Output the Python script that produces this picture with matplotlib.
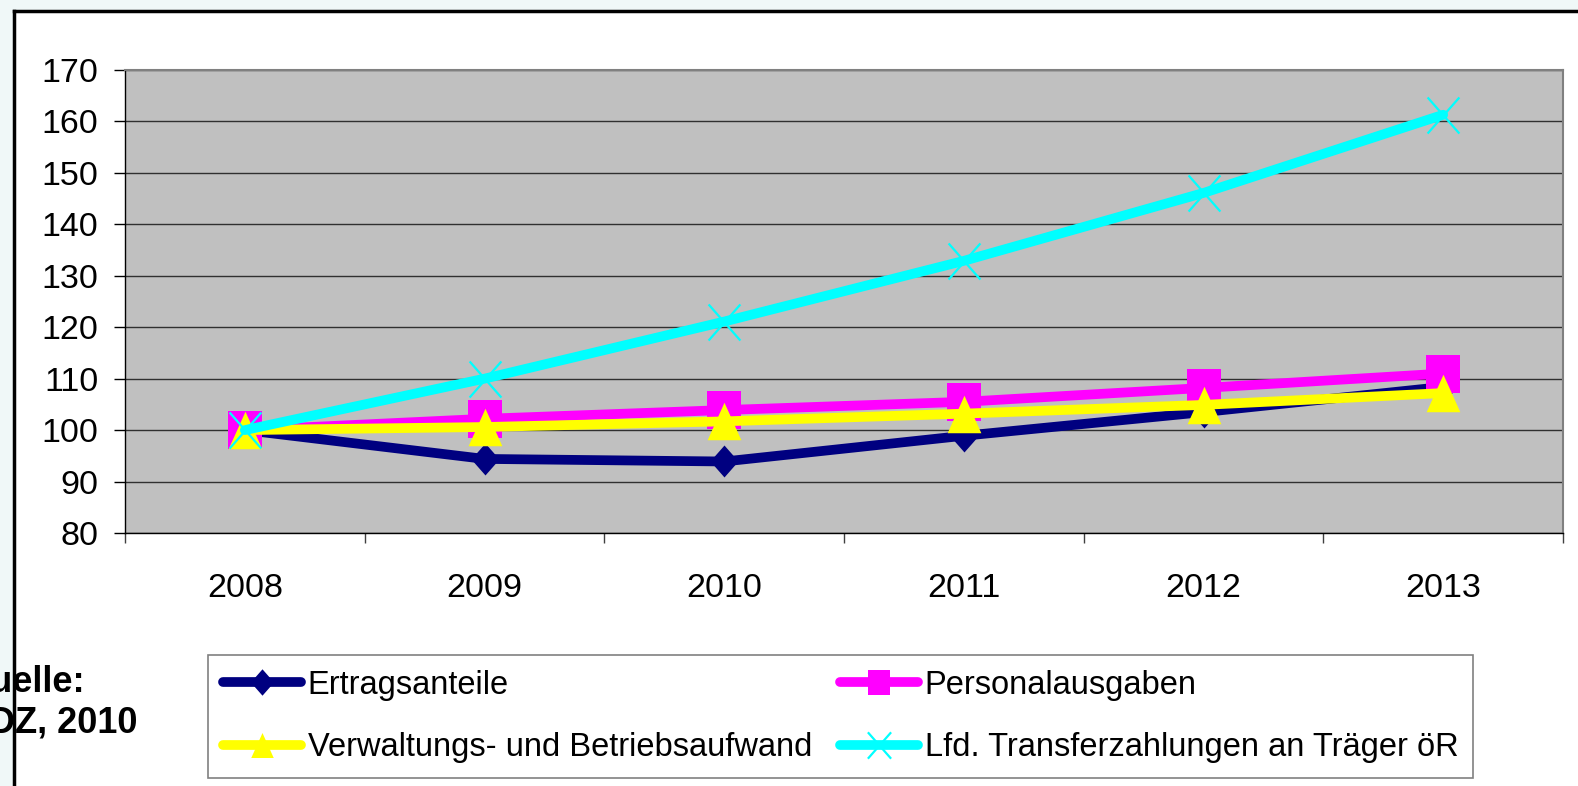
import numpy as np
import matplotlib.pyplot as plt
from matplotlib.path import Path
from matplotlib.lines import Line2D
from matplotlib.patches import Rectangle

plt.rcParams['font.family'] = ['Liberation Sans', 'DejaVu Sans']

# index values, 2008 = 100
years = ['2008', '2009', '2010', '2011', '2012', '2013']
ertragsanteile = [100, 94.4, 93.9, 98.9, 103.5, 108.4]
personalausgaben = [100, 102.2, 103.9, 105.5, 108.2, 111.0]
verwaltung = [100, 100.6, 101.7, 103.2, 104.9, 107.2]
transfer = [100, 110.0, 121.1, 132.9, 146.1, 161.3]

labels = ['Ertragsanteile', 'Personalausgaben',
          'Verwaltungs- und Betriebsaufwand',
          'Lfd. Transferzahlungen an Träger öR']
colors = ['#000080', '#ff00ff', '#ffff00', '#00ffff']

# marker shapes, a bit taller than wide like in the original
sq = Path([(-0.45, -0.5), (0.45, -0.5), (0.45, 0.5), (-0.45, 0.5), (-0.45, -0.5)],
          [Path.MOVETO, Path.LINETO, Path.LINETO, Path.LINETO, Path.CLOSEPOLY])
tri = Path([(-0.45, -0.5), (0.45, -0.5), (0, 0.5), (-0.45, -0.5)],
           [Path.MOVETO, Path.LINETO, Path.LINETO, Path.CLOSEPOLY])
dia = Path([(0, 0.5), (0.44, 0), (0, -0.5), (-0.44, 0), (0, 0.5)],
           [Path.MOVETO, Path.LINETO, Path.LINETO, Path.LINETO, Path.CLOSEPOLY])
cross = Path([(-0.44, -0.5), (0.44, 0.5), (-0.44, 0.5), (0.44, -0.5)],
             [Path.MOVETO, Path.LINETO, Path.MOVETO, Path.LINETO])
markers = [dia, sq, tri, cross]
msizes = [23, 27, 27, 26]
leg_msizes = [19, 18, 18, 19]

W, H = 1578, 786
fig = plt.figure(figsize=(W / 100, H / 100), dpi=100)
fig.patch.set_facecolor('#f0f8f8')

# white panel with black frame, running off right and bottom
fx, fy = 14 / W, 1 - 11 / H
fig.add_artist(Rectangle((fx, -0.1), 1.2, fy + 0.1, transform=fig.transFigure,
                         facecolor='white', edgecolor='none', zorder=-5))
fig.add_artist(Line2D([fx, fx], [-0.1, fy], transform=fig.transFigure,
                      color='black', lw=2.5, zorder=10))
fig.add_artist(Line2D([fx, 1.1], [fy, fy], transform=fig.transFigure,
                      color='black', lw=2.5, zorder=10))

ax = fig.add_axes([125 / W, 1 - 533 / H, (1563 - 125) / W, (533 - 70) / H])
ax.set_facecolor('#c0c0c0')

x = np.arange(len(years))
series = [ertragsanteile, personalausgaben, verwaltung, transfer]
for vals, col, mk, ms in zip(series, colors, markers, msizes):
    if mk is cross:
        ax.plot(x, vals, color=col, lw=7, marker=mk, ms=ms, mfc='none',
                mec=col, mew=1.6, solid_capstyle='round')
    else:
        ax.plot(x, vals, color=col, lw=7, marker=mk, ms=ms, mfc=col,
                mec=col, mew=0, solid_capstyle='round')

ax.set_xlim(-0.5, 5.5)
ax.set_ylim(80, 170)
ax.set_yticks(range(80, 171, 10))
ax.yaxis.grid(True, color='#303030', lw=1)
ax.set_axisbelow(True)

ax.set_xticks(x, years)
ax.set_xticks(np.arange(-0.5, 6, 1), minor=True)
ax.tick_params(axis='x', which='major', length=0, pad=29, labelsize=24.5)
ax.tick_params(axis='x', which='minor', length=7.5, width=1, color='#404040')
ax.tick_params(axis='y', length=8, width=1, pad=11, labelsize=24.5)

for s in ['top', 'right']:
    ax.spines[s].set_color('#808080')
    ax.spines[s].set_linewidth(1.5)
for s in ['left', 'bottom']:
    ax.spines[s].set_color('black')
    ax.spines[s].set_linewidth(1)

# legend: two columns, filled row by row like the original
handles = []
for col, mk, ms in zip(colors, markers, leg_msizes):
    if mk is cross:
        h = Line2D([], [], color=col, lw=7, marker=mk, ms=ms, mfc='none',
                   mec=col, mew=1.6, solid_capstyle='round')
    else:
        h = Line2D([], [], color=col, lw=7, marker=mk, ms=ms, mfc=col,
                   mec=col, mew=0, solid_capstyle='round')
    handles.append(h)
order = [0, 2, 1, 3]
leg = fig.legend([handles[i] for i in order], [labels[i] for i in order],
                 loc='upper left', bbox_to_anchor=(208 / W, 1 - 655 / H),
                 ncol=2, fontsize=23.5, frameon=True, fancybox=False,
                 edgecolor='#808080', framealpha=1, borderpad=0.45,
                 borderaxespad=0, handlelength=2.4, handletextpad=0.2,
                 columnspacing=0.85, labelspacing=0.96, numpoints=1)
leg.get_frame().set_linewidth(1.2)

fig.text(-37 / W, 1 - 683 / H, 'Quelle:', fontsize=26, fontweight='bold',
         ha='left', va='center', zorder=3)
fig.text(-37 / W, 1 - 723 / H, 'KDZ, 2010', fontsize=26, fontweight='bold',
         ha='left', va='center', zorder=3)

fig.savefig('out.png', dpi=100, facecolor=fig.get_facecolor())
